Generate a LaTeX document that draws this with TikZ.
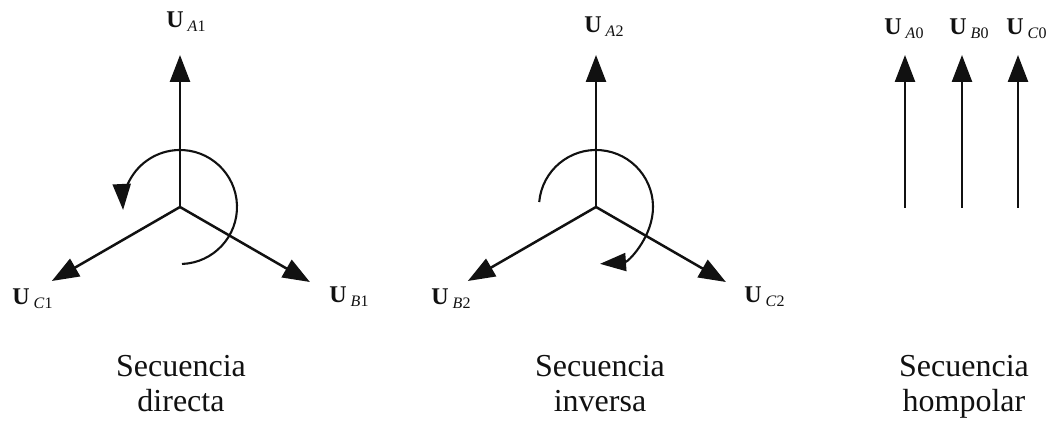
\documentclass[tikz,border=0pt]{standalone}
\usepackage{fontspec}
\setmainfont{Liberation Serif}
\usepackage{tikz}
\usetikzlibrary{arrows.meta,positioning,calc}
\definecolor{Ink}{HTML}{111111}
\newcommand{\phasorlabel}[2]{\textbf{U}\,\raisebox{-2pt}{\fontsize{8}{9}\selectfont\textit{#1}#2}}
\tikzset{
  vector/.style={-{Triangle[length=13.5pt,width=10pt]}, line width=1.25pt, draw=Ink},
  rotation/.style={-{Triangle[length=13pt,width=9pt]}, line width=1.05pt, draw=Ink},
  phasor/.style={anchor=base west, inner sep=0pt, font=\fontsize{12}{14}\selectfont, text=Ink},
  caption/.style={anchor=north, align=center, inner sep=0pt, font=\fontsize{16}{17.5}\selectfont, text=Ink}
}

\begin{document}
\begin{tikzpicture}[x=0.5pt,y=0.5pt]
  \useasboundingbox (0,0) rectangle (1050,421);

  % direct sequence
  \coordinate (O1) at (180,214);
  \coordinate (A1) at ($(O1)+(90:152)$);
  \coordinate (B1) at ($(O1)+(-30:150)$);
  \coordinate (C1) at ($(O1)+(210:148)$);
  \draw[vector] (O1) -- (A1);
  \draw[vector] (O1) -- (B1);
  \draw[vector] (O1) -- (C1);
  \draw[rotation] ($(O1)+(-88:57)$) arc[start angle=-88, end angle=183, radius=57];
  \node[phasor] (lblA1) at (166,393) {\phasorlabel{A}{1}};
  \node[phasor] (lblB1) at (329,118) {\phasorlabel{B}{1}};
  \node[phasor] (lblC1) at (12,116) {\phasorlabel{C}{1}};
  \node[caption] (capdirect) at (181,66) {Secuencia\\directa};

  % inverse sequence
  \coordinate (O2) at (596,214);
  \coordinate (A2) at ($(O2)+(90:152)$);
  \coordinate (B2) at ($(O2)+(210:148)$);
  \coordinate (C2) at ($(O2)+(-30:150)$);
  \draw[vector] (O2) -- (A2);
  \draw[vector] (O2) -- (B2);
  \draw[vector] (O2) -- (C2);
  \draw[rotation] ($(O2)+(175:57)$) arc[start angle=175, end angle=-86, radius=57];
  \node[phasor] (lblA2) at (584,388) {\phasorlabel{A}{2}};
  \node[phasor] (lblB2) at (431,116) {\phasorlabel{B}{2}};
  \node[phasor] (lblC2) at (744,118) {\phasorlabel{C}{2}};
  \node[caption] (capinverse) at (600,66) {Secuencia\\inversa};

  % zero sequence
  \foreach \ph/\x in {A/905, B/962, C/1018} {
    \coordinate (base\ph) at (\x,213);
    \coordinate (tip\ph) at (\x,366);
    \draw[vector] (base\ph) -- (tip\ph);
  }
  \node[phasor] (lblA0) at (884,386) {\phasorlabel{A}{0}};
  \node[phasor] (lblB0) at (949,386) {\phasorlabel{B}{0}};
  \node[phasor] (lblC0) at (1006,386) {\phasorlabel{C}{0}};
  \node[caption] (capzero) at (964,66) {Secuencia\\hompolar};
\end{tikzpicture}
\end{document}
